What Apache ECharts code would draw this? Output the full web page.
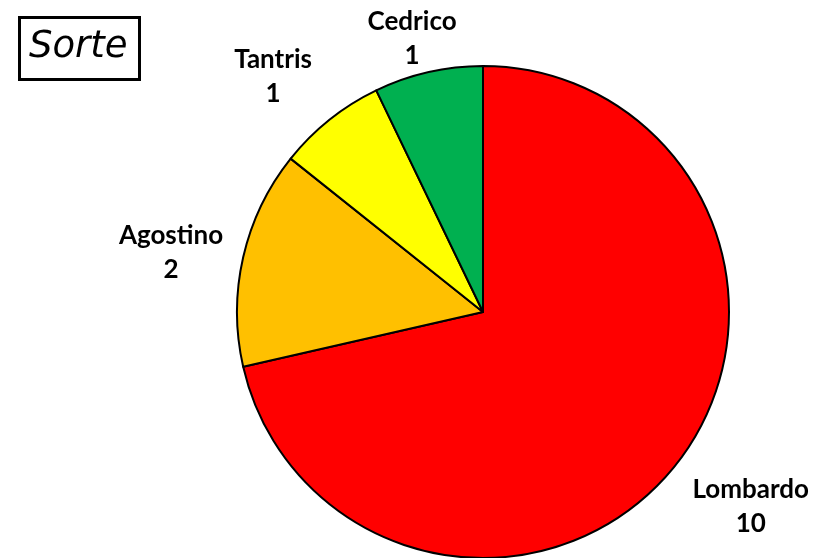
<!DOCTYPE html>
<html>
<head>
<meta charset="utf-8">
<script src="https://cdn.jsdelivr.net/npm/echarts@6/dist/echarts.min.js"></script>
<style>
  html, body { margin: 0; padding: 0; background: #fff; }
  #chart { width: 827px; height: 558px; }
</style>
</head>
<body>
<div id="chart"></div>
<script>
// Chart data
const categories = ['Lombardo', 'Agostino', 'Tantris', 'Cedrico'];
const values = [10, 2, 1, 1];
const sliceColors = ['#FF0000', '#FFC000', '#FFFF00', '#00B050'];
const chartTitle = 'Sorte';

// Pie geometry and label placement (distance from centre, angular nudge in degrees)
const CX = 483, CY = 312, R = 246;
const labelDist = [330, 318, 317, 284];
const labelNudge = [-2.8, -1.7, -2.9, -1.6];

const total = values.reduce((a, b) => a + b, 0);
function midAngle(i) {
  let before = 0;
  for (let k = 0; k < i; k++) before += values[k];
  return (before + values[i] / 2) / total * 360; // clockwise from 12 o'clock
}

const chart = echarts.init(document.getElementById('chart'), null, { renderer: 'canvas' });
chart.setOption({
  backgroundColor: '#ffffff',
  animation: false,
  title: {
    text: chartTitle,
    left: 19,
    top: 17,
    borderWidth: 3,
    borderColor: '#000',
    padding: [8, 12, 11, 10],
    textStyle: {
      fontFamily: 'DejaVu Sans',
      fontStyle: 'italic',
      fontWeight: 'normal',
      fontSize: 37,
      lineHeight: 44,
      color: '#000'
    }
  },
  series: [{
    type: 'pie',
    center: [CX, CY],
    radius: R,
    startAngle: 90,
    clockwise: true,
    data: categories.map((name, i) => ({
      name: name,
      value: values[i],
      itemStyle: { color: sliceColors[i] }
    })),
    itemStyle: { borderColor: '#000', borderWidth: 2 },
    label: {
      show: true,
      position: 'outside',
      formatter: '{b}\n{c}',
      fontFamily: 'Lato',
      fontWeight: 'bold',
      fontSize: 26,
      lineHeight: 34,
      color: '#000',
      align: 'center',
      overflow: 'none',
      width: 200
    },
    labelLine: { show: false },
    labelLayout: function (params) {
      const i = params.dataIndex;
      const a = (midAngle(i) + labelNudge[i]) * Math.PI / 180;
      const d = labelDist[i];
      return {
        x: CX + Math.sin(a) * d,
        y: CY - Math.cos(a) * d + 2,
        align: 'center',
        verticalAlign: 'middle'
      };
    },
    emphasis: { disabled: true }
  }]
});
</script>
</body>
</html>
